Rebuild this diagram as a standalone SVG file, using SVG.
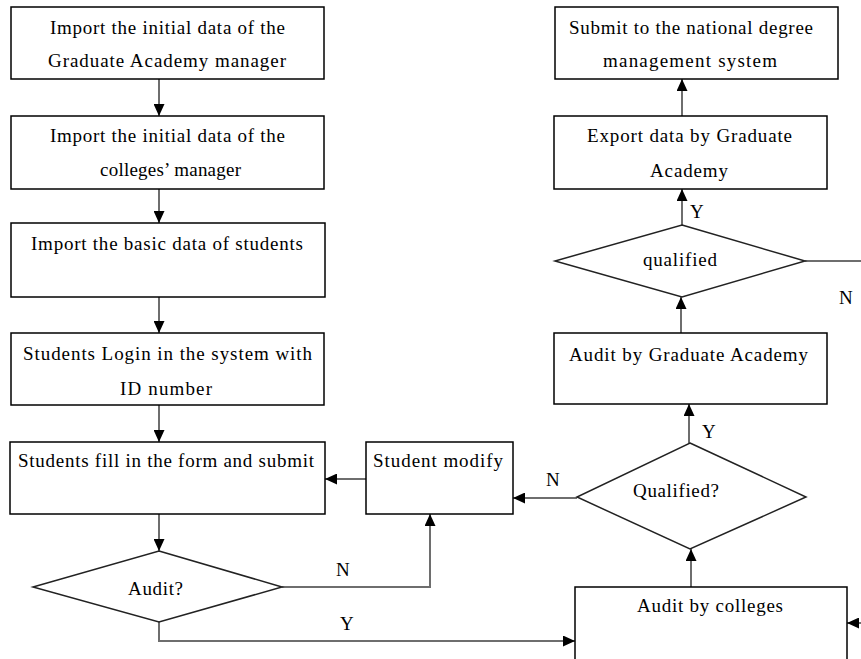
<svg xmlns="http://www.w3.org/2000/svg" width="861" height="659" viewBox="0 0 861 659">
<style>
.box{fill:#fff;stroke:#000;stroke-width:1.5}
.dia{fill:#fff;stroke:#222;stroke-width:1.5}
.t{font-family:"Liberation Serif","Times New Roman",serif;font-size:19px;fill:#000}
.c{fill:none;stroke:#6e6e6e;stroke-width:2}
</style>
<defs>
<marker id="ah" markerUnits="userSpaceOnUse" markerWidth="12" markerHeight="11" refX="12" refY="5.5" orient="auto">
<path d="M0,0 L12,5.5 L0,11 z" fill="#000"/>
</marker>
</defs>
<rect width="861" height="659" fill="#fff"/>
<g id="connectors">
<path class="c" d="M159,79 V116" marker-end="url(#ah)"/>
<path class="c" d="M159,189 V223" marker-end="url(#ah)"/>
<path class="c" d="M159,297 V333" marker-end="url(#ah)"/>
<path class="c" d="M159,405 V442" marker-end="url(#ah)"/>
<path class="c" d="M159,514 V551" marker-end="url(#ah)"/>
<path class="c" d="M366,479 H325" marker-end="url(#ah)"/>
<path class="c" d="M282,587 H430 V514" marker-end="url(#ah)"/>
<path class="c" d="M159,622 V641 H575" marker-end="url(#ah)"/>
<path class="c" d="M577,498 H513" marker-end="url(#ah)"/>
<path class="c" d="M691,587 V549" marker-end="url(#ah)"/>
<path class="c" d="M689,443 V404" marker-end="url(#ah)"/>
<path class="c" d="M681,333 V297" marker-end="url(#ah)"/>
<path class="c" d="M682,225 V189" marker-end="url(#ah)"/>
<path class="c" d="M682,116 V79" marker-end="url(#ah)"/>
<path class="c" d="M805,261 H861"/>
<path class="c" d="M861,623 H847" marker-end="url(#ah)"/>
<text class="t" x="336" y="576">N</text>
<text class="t" x="340" y="630">Y</text>
<text class="t" x="546" y="486">N</text>
<text class="t" x="702" y="438">Y</text>
<text class="t" x="690" y="218">Y</text>
<text class="t" x="839" y="304">N</text>
</g>
<g id="n1">
<rect class="box" x="11" y="7" width="313" height="72"/>
<text class="t" x="50" y="34" textLength="235" lengthAdjust="spacing">Import the initial data of the</text>
<text class="t" x="48" y="67" textLength="238" lengthAdjust="spacing">Graduate Academy manager</text>
</g>
<g id="n2">
<rect class="box" x="11" y="116" width="313" height="73"/>
<text class="t" x="50" y="142" textLength="235" lengthAdjust="spacing">Import the initial data of the</text>
<text class="t" x="100" y="176" textLength="141" lengthAdjust="spacing">colleges’ manager</text>
</g>
<g id="n3">
<rect class="box" x="11" y="223" width="314" height="74"/>
<text class="t" x="31" y="250" textLength="272" lengthAdjust="spacing">Import the basic data of students</text>
</g>
<g id="n4">
<rect class="box" x="11" y="333" width="313" height="72"/>
<text class="t" x="23" y="360" textLength="289" lengthAdjust="spacing">Students Login in the system with</text>
<text class="t" x="120" y="395" textLength="92" lengthAdjust="spacing">ID number</text>
</g>
<g id="n5">
<rect class="box" x="10" y="442" width="315" height="72"/>
<text class="t" x="18" y="467" textLength="296" lengthAdjust="spacing">Students fill in the form and submit</text>
</g>
<g id="n6">
<rect class="box" x="366" y="442" width="147" height="72"/>
<text class="t" x="373" y="467" textLength="130" lengthAdjust="spacing">Student modify</text>
</g>
<g id="n7">
<polygon class="dia" points="159,551 282,587 159,622 33,587"/>
<text class="t" x="128" y="595" textLength="55" lengthAdjust="spacing">Audit?</text>
</g>
<g id="n8">
<rect class="box" x="575" y="587" width="272" height="80"/>
<text class="t" x="637" y="612" textLength="146" lengthAdjust="spacing">Audit by colleges</text>
</g>
<g id="n9">
<polygon class="dia" points="690,443 806,497 690,549 577,497"/>
<text class="t" x="633" y="497" textLength="86" lengthAdjust="spacing">Qualified?</text>
</g>
<g id="n10">
<rect class="box" x="554" y="333" width="273" height="71"/>
<text class="t" x="569" y="361" textLength="239" lengthAdjust="spacing">Audit by Graduate Academy</text>
</g>
<g id="n11">
<polygon class="dia" points="682,225 805,261 682,297 555,261"/>
<text class="t" x="643" y="266" textLength="74" lengthAdjust="spacing">qualified</text>
</g>
<g id="n12">
<rect class="box" x="554" y="116" width="273" height="73"/>
<text class="t" x="587" y="142" textLength="205" lengthAdjust="spacing">Export data by Graduate</text>
<text class="t" x="650" y="177" textLength="78" lengthAdjust="spacing">Academy</text>
</g>
<g id="n13">
<rect class="box" x="555" y="7" width="283" height="72"/>
<text class="t" x="569" y="34" textLength="244" lengthAdjust="spacing">Submit to the national degree</text>
<text class="t" x="603" y="67" textLength="174" lengthAdjust="spacing">management system</text>
</g>
</svg>
